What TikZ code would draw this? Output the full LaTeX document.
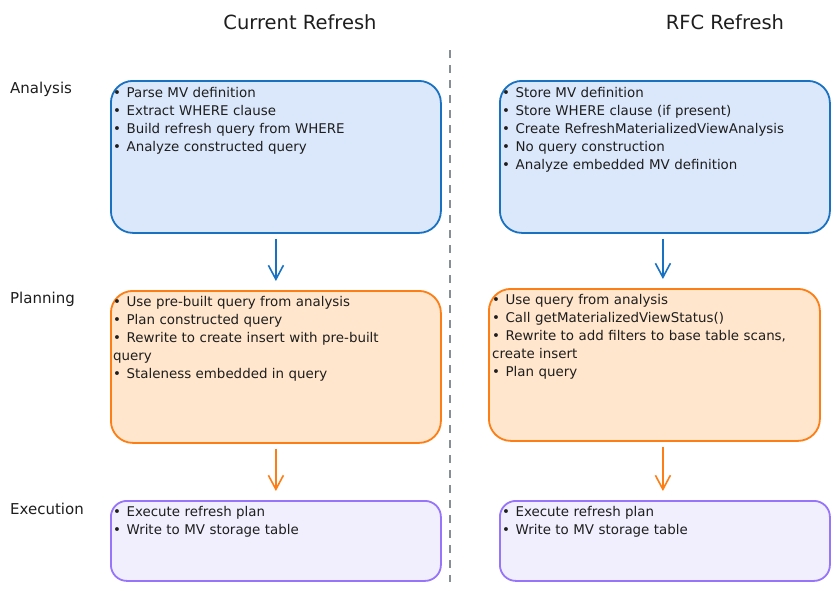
\documentclass[tikz,border=0pt]{standalone}
\usepackage{fontspec}
\setmainfont{DejaVu Sans}
\usetikzlibrary{arrows.meta}
\definecolor{bfill}{HTML}{DBE8FB}
\definecolor{bdraw}{HTML}{1971C2}
\definecolor{ofill}{HTML}{FFE6CC}
\definecolor{odraw}{HTML}{FD7E14}
\definecolor{pfill}{HTML}{F1EFFE}
\definecolor{pdraw}{HTML}{9775FA}
\definecolor{sep}{HTML}{868E96}
\definecolor{ink}{HTML}{1E1E1E}
\newcommand{\bl}{•\hspace{5.5pt}}
\begin{document}
\begin{tikzpicture}[x=1pt,y=-1pt,
  box/.style={draw, line width=1.8pt, rounded corners=22pt, anchor=north west, inner sep=0pt},
  bluebox/.style={box, fill=bfill, draw=bdraw},
  orangebox/.style={box, fill=ofill, draw=odraw},
  purplebox/.style={box, fill=pfill, draw=pdraw, rounded corners=16pt},
  txt/.style={anchor=north west, inner sep=0pt, align=left, text width=336pt, text=ink, font=\fontsize{13.4}{18}\selectfont},
  title/.style={text=ink, font=\fontsize{19.5}{22}\selectfont},
  side/.style={anchor=west, inner sep=0pt, text=ink, font=\fontsize{15}{17}\selectfont},
  arr/.style={line width=1.6pt, -{Straight Barb[length=14pt,width=15pt,line width=1.6pt]}, shorten <=5pt, shorten >=9pt}
]
\useasboundingbox (0,0) rectangle (840,590);
\fill[white] (0,0) rectangle (840,590);

% titles
\node[title] (t1) at (300,22) {Current Refresh};
\node[title] (t2) at (725,22) {RFC Refresh};

% side labels
\node[side] (l1) at (10,89) {Analysis};
\node[side] (l2) at (10,299) {Planning};
\node[side] (l3) at (10,509) {Execution};

% separator
\coordinate (s1) at (450,50);
\coordinate (s2) at (450,582);
\draw[sep, line width=1.6pt, dash pattern=on 8pt off 7pt] (s1) -- (s2);

% boxes
\node[bluebox, minimum width=330pt, minimum height=152pt] (a1) at (110,80) {};
\node[bluebox, minimum width=330pt, minimum height=152pt] (a2) at (499,80) {};
\node[orangebox, minimum width=330pt, minimum height=152pt] (p1) at (110,290) {};
\node[orangebox, minimum width=331pt, minimum height=152pt] (p2) at (488,288) {};
\node[purplebox, minimum width=330pt, minimum height=80pt] (e1) at (110,500) {};
\node[purplebox, minimum width=330pt, minimum height=80pt] (e2) at (499,500) {};

% texts
\node[txt] (ta1) at (113,87) {\bl Parse MV definition\\\bl Extract WHERE clause\\\bl Build refresh query from WHERE\\\bl Analyze constructed query};
\node[txt] (ta2) at (502,87) {\bl Store MV definition\\\bl Store WHERE clause (if present)\\\bl Create RefreshMaterializedViewAnalysis\\\bl No query construction\\\bl Analyze embedded MV definition};
\node[txt] (tp1) at (113,296) {\bl Use pre-built query from analysis\\\bl Plan constructed query\\\bl Rewrite to create insert with pre-built\\query\\\bl Staleness embedded in query};
\node[txt] (tp2) at (492,294) {\bl Use query from analysis\\\bl Call getMaterializedViewStatus()\\\bl Rewrite to add filters to base table scans,\\create insert\\\bl Plan query};
\node[txt] (te1) at (113,506) {\bl Execute refresh plan\\\bl Write to MV storage table};
\node[txt] (te2) at (502,506) {\bl Execute refresh plan\\\bl Write to MV storage table};

% arrows
\draw[arr, bdraw] ([xshift=0pt]a1.south) -- (a1.south |- p1.north);
\draw[arr, bdraw] ([xshift=-2pt]a2.south) -- ([xshift=-2pt]a2.south |- p2.north);
\draw[arr, odraw] (p1.south) -- (p1.south |- e1.north);
\draw[arr, odraw] ([xshift=8.5pt]p2.south) -- ([xshift=8.5pt]p2.south |- e2.north);
\end{tikzpicture}
\end{document}
